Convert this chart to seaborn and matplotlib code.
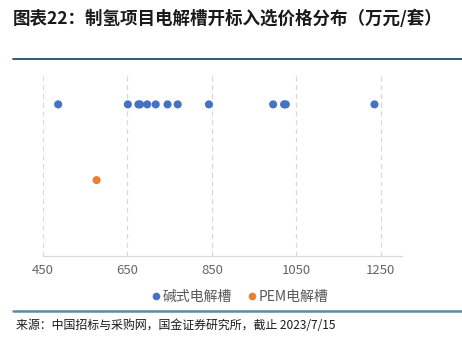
import matplotlib
matplotlib.use("Agg")
import matplotlib.pyplot as plt
import seaborn as sns
import pandas as pd
from matplotlib.lines import Line2D

# Bid prices of electrolyzer projects (10k yuan per set)
alk_prices = [486, 651, 676, 680, 697, 717, 745, 769, 843, 995, 1021, 1025, 1235]
pem_prices = [577]
series_names = ["碱式电解槽", "PEM电解槽"]
series_levels = [2, 1]
x_ticks = [450, 650, 850, 1050, 1250]

sns.set_theme(style="white")
plt.rcParams["font.family"] = ["Noto Sans CJK SC", "DejaVu Sans"]

df = pd.DataFrame({
    "price": alk_prices + pem_prices,
    "type": [series_names[0]] * len(alk_prices) + [series_names[1]] * len(pem_prices),
    "level": [series_levels[0]] * len(alk_prices) + [series_levels[1]] * len(pem_prices),
})
palette = {series_names[0]: "#4472C4", series_names[1]: "#ED7D31"}

fig = plt.figure(figsize=(4.62, 3.43), dpi=100)
ax = fig.add_axes([0.093, 0.254, 0.777, 0.53])

sns.scatterplot(data=df, x="price", y="level", hue="type", palette=palette,
                s=34, linewidth=0, ax=ax, legend=False, zorder=3)

ax.set_xlim(450, 1300)
ax.set_ylim(0, 2.4)
ax.set_xticks(x_ticks)
ax.set_xticklabels([str(t) for t in x_ticks], color="#666666", fontsize=9.5)
ax.set_yticks([])
ax.set_xlabel("")
ax.set_ylabel("")
ax.tick_params(axis="x", length=0, pad=6)
for t in x_ticks:
    ax.axvline(t, color="#D9D9D9", linestyle=(0, (4, 3)), linewidth=0.9, zorder=1)
for side in ["top", "right", "left"]:
    ax.spines[side].set_visible(False)
ax.spines["bottom"].set_color("#D9D9D9")
ax.spines["bottom"].set_linewidth(0.9)

handles = [Line2D([0], [0], marker="o", linestyle="", markersize=5.5,
                  markerfacecolor=palette[n], markeredgewidth=0) for n in series_names]
fig.legend(handles, series_names, loc="center", bbox_to_anchor=(0.515, 0.134), ncol=2,
           frameon=False, fontsize=10, handletextpad=-0.1, columnspacing=0.8,
           labelcolor="#595959", handlelength=1.2)

# Header title and separator rules
fig.text(0.028, 0.945, "图表22：制氢项目电解槽开标入选价格分布（万元/套）",
         fontsize=12.6, fontweight="bold", fontstyle="italic", color="#1a1a1a",
         va="center", ha="left")
fig.add_artist(Line2D([0.028, 1.0], [0.829, 0.829], color="#1F4E6E", linewidth=1.3))
fig.add_artist(Line2D([0.028, 1.0], [0.093, 0.093], color="#5B8AA6", linewidth=1.8))
fig.text(0.035, 0.052, "来源：中国招标与采购网，国金证券研究所，截止 2023/7/15",
         fontsize=8.6, color="#1a1a1a", va="center", ha="left")

fig.savefig("out.png", dpi=100)
